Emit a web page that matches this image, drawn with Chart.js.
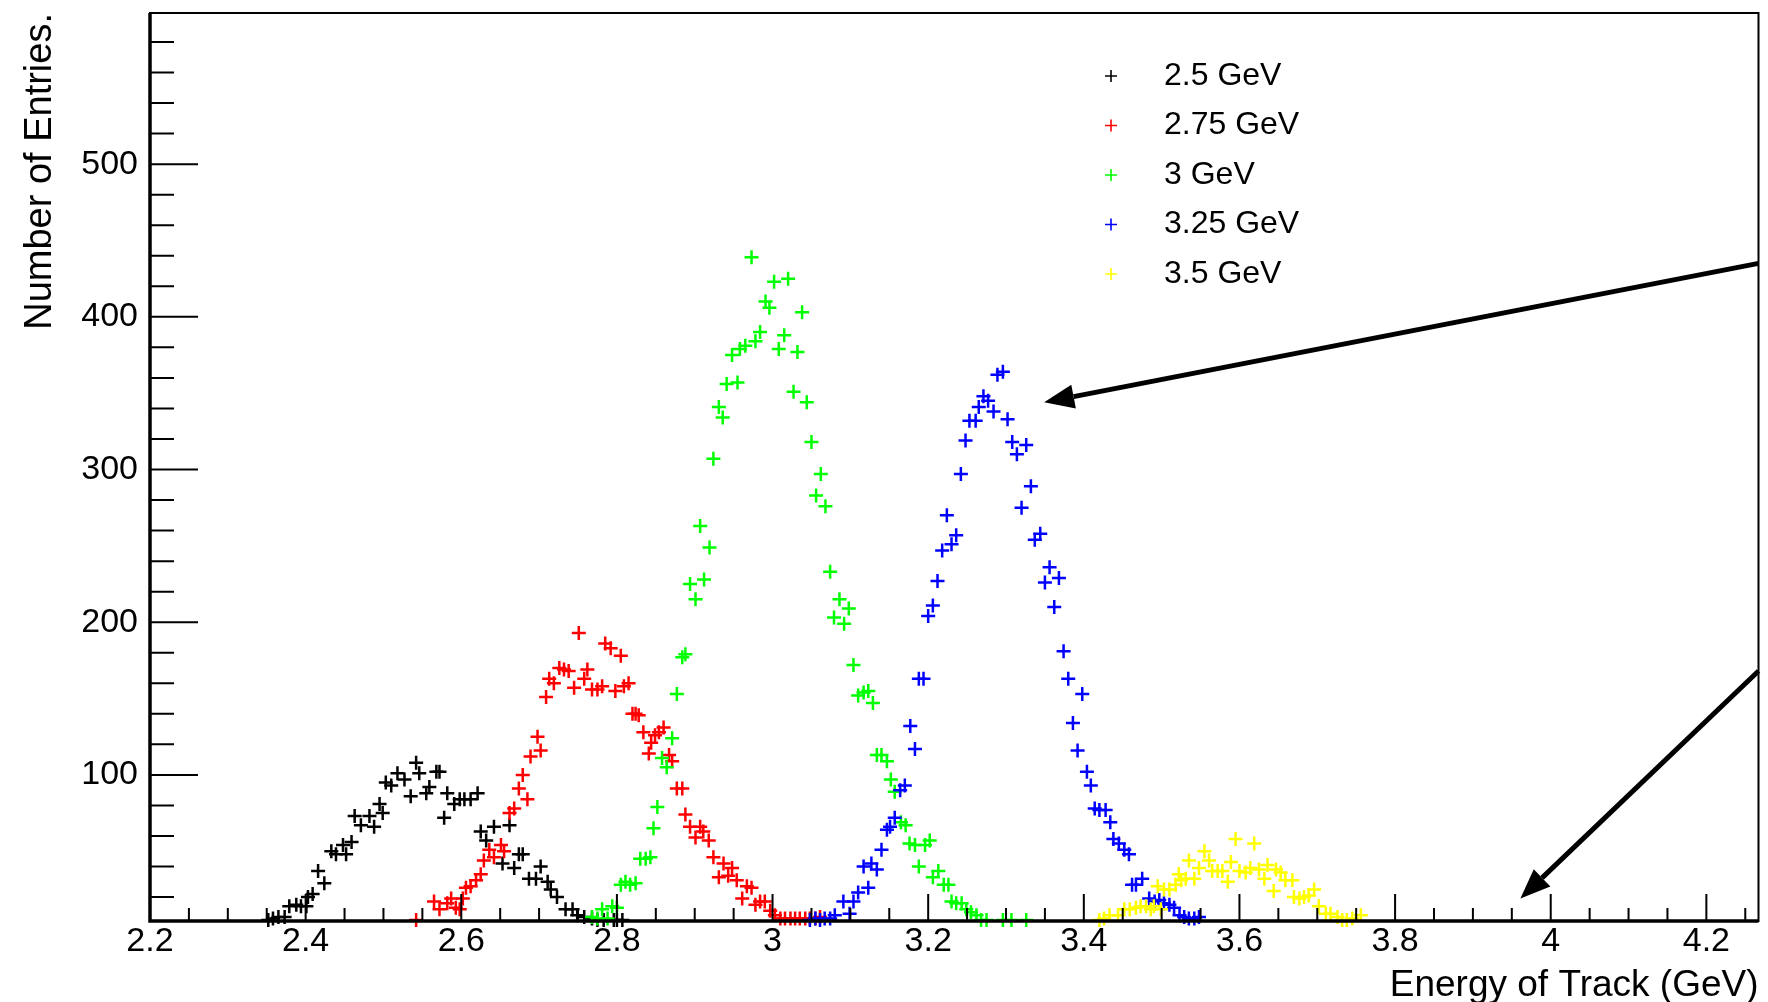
<!DOCTYPE html>
<html>
<head>
<meta charset="utf-8">
<script src="https://cdn.jsdelivr.net/npm/chart.js@4.4.1/dist/chart.umd.min.js"></script>
<style>
  html, body { margin: 0; padding: 0; background: #fff; }
  canvas { display: block; }
</style>
</head>
<body>
<canvas id="chart" width="1768" height="1002"></canvas>
<script>
// values (bin centre in GeV, number of entries)

const labels = ['2.5 GeV', '2.75 GeV', '3 GeV', '3.25 GeV', '3.5 GeV'];
const colors = ['#000000', '#ff0000', '#00ff00', '#0000ff', '#ffff00'];

const x_25 = [2.352, 2.358, 2.365, 2.373, 2.379, 2.388, 2.394, 2.401, 2.403, 2.409, 2.416, 2.424, 2.433, 2.439, 2.448, 2.452, 2.459, 2.463, 2.471, 2.482, 2.488, 2.495, 2.499, 2.503, 2.510, 2.518, 2.527, 2.535, 2.542, 2.546, 2.555, 2.559, 2.568, 2.572, 2.578, 2.582, 2.591, 2.598, 2.604, 2.612, 2.621, 2.625, 2.632, 2.642, 2.653, 2.662, 2.668, 2.674, 2.679, 2.687, 2.696, 2.702, 2.711, 2.715, 2.723, 2.734, 2.743, 2.749, 2.758, 2.768, 2.775, 2.783, 2.796, 2.800, 2.807];
const y_25 = [5, 6, 7, 7, 14, 15, 14, 14, 20, 22, 37, 29, 50, 48, 54, 48, 56, 73, 67, 73, 66, 81, 75, 95, 93, 101, 97, 86, 108, 101, 88, 92, 102, 102, 72, 88, 81, 84, 84, 84, 88, 63, 57, 66, 42, 67, 39, 48, 48, 32, 32, 40, 30, 25, 20, 12, 12, 8, 7, 6, 5, 5, 5, 5, 5];

const x_275 = [2.542, 2.565, 2.572, 2.582, 2.587, 2.593, 2.598, 2.602, 2.606, 2.612, 2.619, 2.625, 2.629, 2.636, 2.642, 2.651, 2.655, 2.662, 2.668, 2.674, 2.679, 2.685, 2.689, 2.698, 2.702, 2.709, 2.713, 2.719, 2.726, 2.732, 2.738, 2.745, 2.751, 2.758, 2.762, 2.768, 2.775, 2.781, 2.785, 2.792, 2.798, 2.805, 2.809, 2.815, 2.820, 2.824, 2.828, 2.834, 2.841, 2.844, 2.849, 2.854, 2.860, 2.867, 2.871, 2.877, 2.884, 2.888, 2.894, 2.901, 2.907, 2.911, 2.918, 2.924, 2.931, 2.937, 2.943, 2.948, 2.954, 2.961, 2.967, 2.973, 2.978, 2.984, 2.990, 2.997, 3.003, 3.010, 3.016, 3.023, 3.029, 3.035, 3.042, 3.048, 3.055, 3.061];
const y_275 = [5, 17, 12, 16, 19, 13, 12, 19, 26, 27, 31, 35, 44, 51, 46, 54, 50, 75, 78, 91, 100, 84, 112, 125, 116, 151, 163, 160, 170, 169, 168, 157, 193, 163, 169, 156, 156, 158, 186, 183, 155, 178, 158, 160, 140, 140, 139, 128, 114, 121, 126, 128, 131, 113, 109, 91, 91, 74, 66, 59, 66, 63, 57, 46, 33, 42, 34, 39, 31, 19, 27, 26, 15, 17, 17, 11, 8, 6, 6, 6, 6, 6, 6, 6, 6, 7];

const x_3 = [2.768, 2.775, 2.781, 2.788, 2.794, 2.800, 2.805, 2.811, 2.817, 2.824, 2.830, 2.837, 2.843, 2.847, 2.852, 2.858, 2.864, 2.871, 2.877, 2.884, 2.888, 2.894, 2.901, 2.907, 2.912, 2.919, 2.924, 2.931, 2.936, 2.941, 2.948, 2.955, 2.958, 2.965, 2.973, 2.978, 2.984, 2.991, 2.996, 3.002, 3.008, 3.015, 3.020, 3.027, 3.032, 3.038, 3.044, 3.050, 3.056, 3.062, 3.068, 3.074, 3.079, 3.086, 3.092, 3.098, 3.104, 3.110, 3.117, 3.123, 3.129, 3.134, 3.140, 3.147, 3.152, 3.157, 3.165, 3.171, 3.176, 3.183, 3.188, 3.196, 3.202, 3.206, 3.213, 3.220, 3.226, 3.230, 3.236, 3.243, 3.249, 3.255, 3.262, 3.268, 3.275, 3.296, 3.307, 3.326];
const y_3 = [7, 6, 12, 6, 14, 13, 28, 30, 28, 29, 45, 45, 46, 65, 79, 111, 105, 124, 153, 177, 179, 225, 215, 263, 228, 249, 307, 341, 334, 356, 375, 357, 379, 381, 439, 384, 390, 410, 406, 423, 379, 388, 425, 351, 377, 403, 344, 318, 283, 297, 276, 233, 203, 215, 199, 209, 172, 152, 154, 155, 147, 113, 113, 109, 97, 89, 69, 67, 55, 54, 40, 54, 57, 33, 37, 28, 28, 17, 16, 16, 12, 10, 8, 5, 5, 5, 5, 5];

const x_325 = [3.048, 3.055, 3.061, 3.067, 3.074, 3.080, 3.091, 3.099, 3.104, 3.110, 3.117, 3.123, 3.127, 3.134, 3.140, 3.147, 3.151, 3.157, 3.164, 3.170, 3.177, 3.183, 3.188, 3.194, 3.200, 3.206, 3.212, 3.218, 3.224, 3.230, 3.236, 3.242, 3.248, 3.253, 3.261, 3.265, 3.271, 3.277, 3.284, 3.289, 3.296, 3.302, 3.308, 3.314, 3.320, 3.326, 3.332, 3.337, 3.344, 3.350, 3.356, 3.362, 3.368, 3.374, 3.380, 3.386, 3.392, 3.398, 3.404, 3.409, 3.414, 3.420, 3.428, 3.434, 3.438, 3.445, 3.452, 3.458, 3.462, 3.467, 3.475, 3.484, 3.491, 3.497, 3.503, 3.510, 3.516, 3.523, 3.529, 3.535, 3.542, 3.548];
const y_325 = [5, 6, 5, 6, 6, 8, 17, 9, 17, 23, 40, 26, 42, 38, 51, 64, 66, 72, 90, 93, 132, 117, 163, 163, 204, 211, 227, 247, 270, 251, 257, 297, 319, 332, 332, 341, 348, 345, 338, 362, 364, 333, 318, 310, 275, 316, 289, 254, 258, 226, 236, 210, 229, 181, 163, 134, 116, 153, 102, 93, 78, 77, 77, 69, 58, 55, 51, 48, 28, 28, 32, 19, 17, 18, 16, 15, 13, 8, 7, 6, 6, 7];

const x_35 = [3.420, 3.426, 3.433, 3.444, 3.452, 3.459, 3.467, 3.473, 3.480, 3.486, 3.490, 3.495, 3.499, 3.503, 3.510, 3.518, 3.522, 3.525, 3.531, 3.535, 3.542, 3.548, 3.555, 3.561, 3.565, 3.572, 3.578, 3.585, 3.589, 3.595, 3.600, 3.608, 3.614, 3.619, 3.625, 3.632, 3.636, 3.644, 3.647, 3.653, 3.659, 3.668, 3.670, 3.677, 3.683, 3.689, 3.696, 3.702, 3.711, 3.717, 3.726, 3.732, 3.738, 3.745, 3.756];
const y_35 = [5, 6, 8, 8, 12, 12, 13, 14, 14, 12, 14, 27, 12, 25, 25, 28, 35, 31, 32, 44, 32, 39, 50, 44, 37, 37, 37, 30, 43, 58, 37, 36, 39, 55, 38, 32, 41, 24, 38, 36, 31, 31, 20, 19, 20, 21, 25, 14, 9, 9, 7, 5, 5, 6, 8];

const xTicks = [2.2, 2.4, 2.6, 2.8, 3.0, 3.2, 3.4, 3.6, 3.8, 4.0, 4.2];
const yTicks = [100, 200, 300, 400, 500];

const series = [[x_25, y_25], [x_275, y_275], [x_3, y_3], [x_325, y_325], [x_35, y_35]];

const FONT = "'Liberation Sans', Arial, Helvetica, sans-serif";
Chart.defaults.font.family = FONT;
Chart.defaults.color = '#000';

function drawArrow(ctx, x1, y1, x2, y2) {
    const ang = Math.atan2(y2 - y1, x2 - x1);
    const len = 30, half = 12;
    const bx = x2 - len * Math.cos(ang), by = y2 - len * Math.sin(ang);
    ctx.lineWidth = 5;
    ctx.beginPath();
    ctx.moveTo(x1, y1);
    ctx.lineTo(bx, by);
    ctx.stroke();
    ctx.beginPath();
    ctx.moveTo(x2, y2);
    ctx.lineTo(bx + half * Math.sin(ang), by - half * Math.cos(ang));
    ctx.lineTo(bx - half * Math.sin(ang), by + half * Math.cos(ang));
    ctx.closePath();
    ctx.fill();
}

// frame, inner tick marks, arrows and the legend (ROOT look)
const decorations = {
    id: 'decorations',
    afterDatasetsDraw(chart) {
        const ctx = chart.ctx;
        const {left, right, top, bottom} = chart.chartArea;
        const xs = chart.scales.x, ys = chart.scales.y;
        ctx.save();
        ctx.strokeStyle = '#000';
        ctx.fillStyle = '#000';

        // tick marks inside the frame
        ctx.lineWidth = 2;
        ctx.beginPath();
        for (let i = 0; ; i++) {
            const v = xs.min + i * 0.05;
            if (v > xs.max) break;
            const px = xs.getPixelForValue(v);
            ctx.moveTo(px, bottom);
            ctx.lineTo(px, bottom - (i % 4 === 0 ? 27 : 13));
        }
        for (let v = 20; v < ys.max; v += 20) {
            const py = ys.getPixelForValue(v);
            ctx.moveTo(left, py);
            ctx.lineTo(left + (v % 100 === 0 ? 48 : 24), py);
        }
        ctx.stroke();

        // frame
        ctx.lineWidth = 2;
        ctx.strokeRect(left, top, right - left, bottom - top);
        ctx.lineWidth = 3.5;
        ctx.beginPath();
        ctx.moveTo(left, top);
        ctx.lineTo(left, bottom);
        ctx.lineTo(right, bottom);
        ctx.stroke();

        // arrows pointing at the 3.25 GeV peak and the empty 4 GeV region
        drawArrow(ctx, xs.getPixelForValue(xs.max), ys.getPixelForValue(435),
                  xs.getPixelForValue(3.349), ys.getPixelForValue(344));
        drawArrow(ctx, xs.getPixelForValue(xs.max), ys.getPixelForValue(168),
                  xs.getPixelForValue(3.961), ys.getPixelForValue(19));

        // legend
        ctx.font = '32px ' + FONT;
        ctx.textBaseline = 'middle';
        ctx.textAlign = 'left';
        chart.data.datasets.forEach((ds, i) => {
            const y = 76 + i * 49.5;
            const x = 1111;
            ctx.strokeStyle = ds.borderColor;
            ctx.lineWidth = 1.6;
            ctx.beginPath();
            ctx.moveTo(x - 6, y); ctx.lineTo(x + 6, y);
            ctx.moveTo(x, y - 6); ctx.lineTo(x, y + 6);
            ctx.stroke();
            ctx.fillStyle = '#000';
            ctx.fillText(ds.label, 1164, y);
        });
        ctx.restore();
    }
};

const ctx = document.getElementById('chart').getContext('2d');
const myChart = new Chart(ctx, {
    type: 'scatter',
    data: {
        datasets: series.map((s, i) => ({
            label: labels[i],
            data: s[0].map((x, j) => ({x: x, y: s[1][j]})),
            pointStyle: 'cross',
            pointRadius: 7,
            pointBorderWidth: 2.5,
            borderColor: colors[i],
            backgroundColor: colors[i],
            showLine: false,
            clip: false,
            order: 4 - i
        }))
    },
    options: {
        responsive: false,
        animation: false,
        devicePixelRatio: 1,
        layout: {padding: {left: 0, right: 0, top: 13, bottom: 0}},
        plugins: {
            legend: {display: false},
            tooltip: {enabled: false}
        },
        scales: {
            x: {
                type: 'linear',
                position: 'bottom',
                min: 2.2,
                max: 4.267,
                afterBuildTicks: s => { s.ticks = xTicks.map(v => ({value: v})); },
                afterFit: s => { s.height = 81; s.paddingLeft = 0; s.paddingRight = 0; },
                grid: {display: false, drawTicks: false},
                border: {display: false},
                ticks: {
                    font: {size: 34},
                    color: '#000',
                    padding: 0,
                    maxRotation: 0,
                    autoSkip: false,
                    callback: v => String(Math.round(v * 10) / 10)
                },
                title: {
                    display: true,
                    text: 'Energy of Track (GeV)',
                    align: 'end',
                    font: {size: 37},
                    color: '#000',
                    padding: {top: 0, bottom: -6}
                }
            },
            y: {
                type: 'linear',
                min: 4.3,
                max: 599,
                afterBuildTicks: s => { s.ticks = yTicks.map(v => ({value: v})); },
                afterFit: s => { s.width = 150; s.paddingTop = 0; s.paddingBottom = 0; },
                grid: {display: false, drawTicks: false},
                border: {display: false},
                ticks: {
                    font: {size: 34},
                    color: '#000',
                    padding: 12
                },
                title: {
                    display: true,
                    text: 'Number of Entries.',
                    align: 'end',
                    font: {size: 38},
                    color: '#000',
                    padding: {top: 18, bottom: 0}
                }
            }
        }
    },
    plugins: [decorations]
});
</script>
</body>
</html>
